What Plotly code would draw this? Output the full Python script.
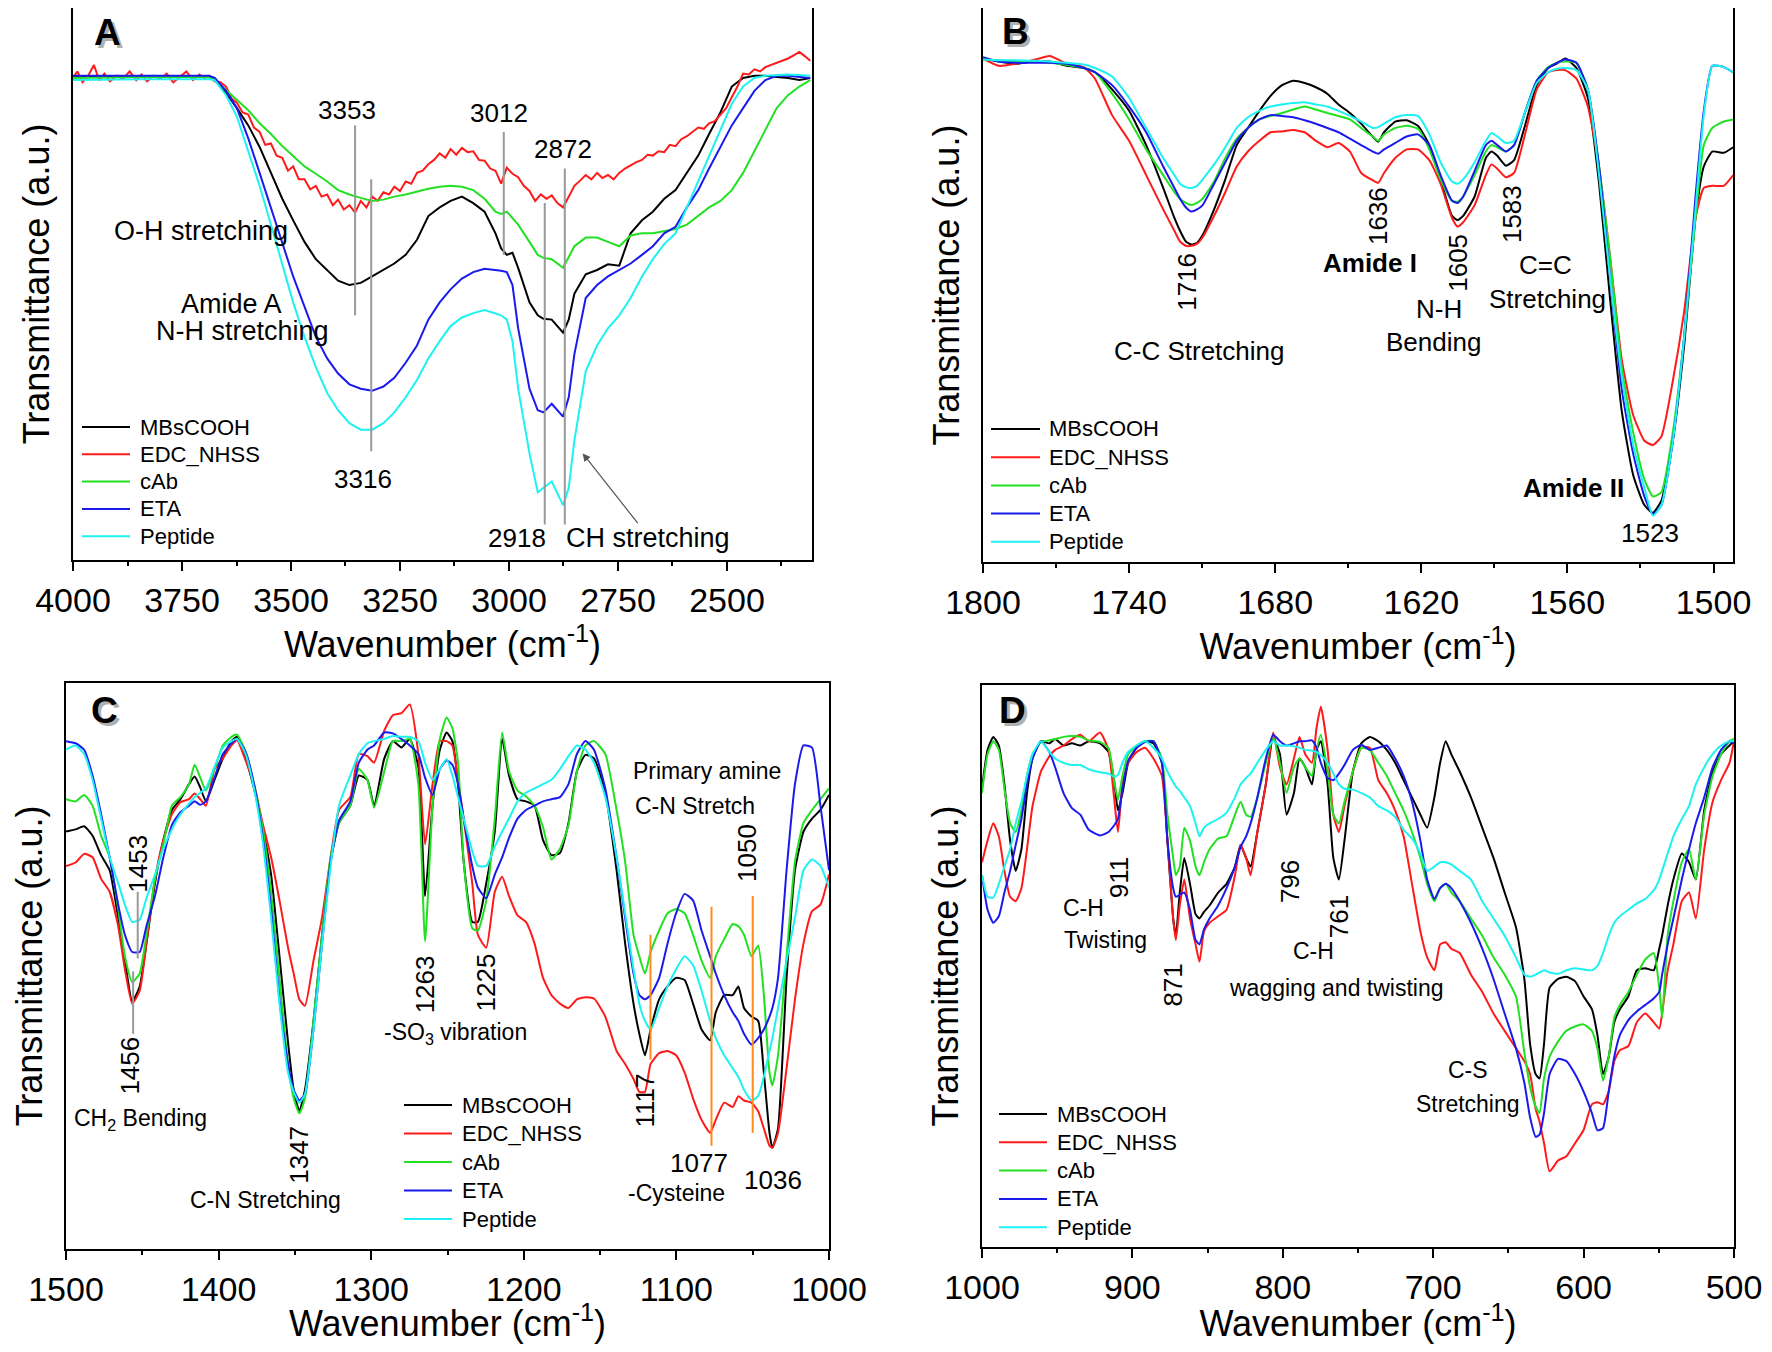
import plotly.graph_objects as go

# ---------------- data ----------------
series = ["MBsCOOH", "EDC_NHSS", "cAb", "ETA", "Peptide"]
colores = ["#000000", "#FF1A1A", "#22E022", "#1A1AEE", "#1CF2F2"]

# panel A (4000 - 2300 cm-1), transmittance in a.u.
wn_a = [4000, 3843, 3688, 3675, 3649, 3624, 3598, 3572, 3546, 3520, 3495, 3469, 3443, 3417, 3392,
        3366, 3340, 3314, 3288, 3263, 3237, 3211, 3185, 3159, 3134, 3108, 3082, 3056, 3031, 3018,
        3005, 2992, 2979, 2953, 2934, 2921, 2902, 2876, 2863, 2850, 2824, 2798, 2773, 2747, 2721,
        2695, 2670, 2644, 2618, 2592, 2566, 2541, 2515, 2489, 2463, 2437, 2412, 2386, 2360, 2334, 2309]
a_mbscooh = [1122, 1122, 1122, 1115, 1085, 1050, 1010, 960, 900, 840, 790, 740, 700, 675, 650,
             640, 645, 660, 675, 690, 710, 745, 800, 820, 835, 845, 830, 810, 760, 725,
             710, 715, 680, 600, 570, 562, 560, 530, 560, 620, 665, 675, 688, 685, 760,
             790, 810, 840, 860, 900, 940, 990, 1040, 1100, 1120, 1125, 1125, 1122, 1120, 1115, 1120]
a_cab = [1120, 1122, 1122, 1115, 1092, 1070, 1045, 1015, 990, 962, 938, 915, 898, 880, 860,
         850, 842, 835, 838, 845, 850, 857, 863, 868, 870, 868, 860, 840, 810, 805,
         810, 795, 780, 740, 710, 703, 700, 680, 705, 730, 750, 750, 740, 730, 755,
         760, 760, 765, 770, 780, 800, 820, 835, 860, 900, 950, 1000, 1050, 1080, 1100, 1115]
a_eta = [1125, 1125, 1125, 1120, 1090, 1050, 980, 900, 820, 740, 660, 590, 520, 470, 435,
         410, 400, 395, 405, 425, 460, 500, 560, 600, 630, 655, 670, 678, 675, 673,
         670, 640, 540, 400, 350, 345, 365, 335, 380, 480, 610, 640, 660, 675, 690,
         710, 730, 760, 775, 820, 860, 910, 960, 1010, 1050, 1090, 1115, 1125, 1125, 1123, 1120]
a_peptide = [1115, 1117, 1117, 1115, 1080, 1030, 950, 870, 780, 690, 600, 520, 450, 390, 350,
             320, 305, 305, 320, 345, 380, 420, 470, 510, 545, 565, 575, 582, 575, 570,
             560, 510, 400, 250, 160, 170, 185, 130, 170, 280, 440, 500, 540, 570, 610,
             660, 700, 735, 760, 820, 880, 940, 1000, 1060, 1100, 1120, 1125, 1127, 1128, 1127, 1125]
# the EDC_NHSS spectrum is noisy, read on a finer grid
wn_a_edc = [4000, 3990, 3978, 3965, 3952, 3940, 3928, 3915, 3900, 3885,
            3870, 3855, 3843, 3830, 3815, 3800, 3785, 3770, 3755, 3740,
            3725, 3710, 3698, 3688, 3675, 3662, 3649, 3636, 3624, 3611,
            3598, 3585, 3572, 3559, 3546, 3533, 3520, 3507, 3495, 3482,
            3469, 3456, 3443, 3430, 3417, 3404, 3392, 3379, 3366, 3353,
            3340, 3327, 3314, 3301, 3288, 3275, 3263, 3250, 3237, 3224,
            3211, 3198, 3185, 3172, 3159, 3146, 3134, 3121, 3108, 3095,
            3082, 3069, 3056, 3043, 3031, 3018, 3005, 2992, 2979, 2966,
            2953, 2940, 2927, 2914, 2902, 2889, 2876, 2863, 2850, 2837,
            2824, 2811, 2798, 2786, 2773, 2760, 2747, 2734, 2721, 2708,
            2695, 2682, 2670, 2657, 2644, 2631, 2618, 2605, 2592, 2579,
            2566, 2553, 2541, 2528, 2515, 2502, 2489, 2476, 2463, 2450,
            2437, 2424, 2412, 2399, 2386, 2373, 2360, 2347, 2334, 2321, 2309]
a_edc = [1120, 1135, 1110, 1125, 1150, 1115, 1130, 1112, 1125, 1118,
         1135, 1115, 1128, 1112, 1125, 1118, 1130, 1110, 1122, 1135,
         1115, 1128, 1118, 1125, 1112, 1110, 1100, 1072, 1062, 1040,
         1035, 1005, 995, 965, 968, 940, 935, 905, 915, 885,
         885, 862, 870, 845, 850, 825, 838, 815, 825, 808,
         835, 820, 845, 835, 855, 850, 868, 858, 880, 875,
         900, 905, 920, 930, 945, 935, 955, 942, 958, 948,
         950, 930, 928, 910, 905, 875, 912, 898, 890, 870,
         858, 835, 850, 840, 848, 830, 820, 845, 870, 882,
         895, 885, 900, 888, 895, 885, 900, 910, 918, 925,
         930, 942, 940, 950, 948, 965, 962, 978, 985, 995,
         1005, 1002, 1015, 1020, 1035, 1050, 1075, 1100, 1130, 1128,
         1140, 1135, 1145, 1150, 1155, 1160, 1165, 1172, 1180, 1170, 1160]

# panel B (1800 - 1492 cm-1)
wn_b = [1800, 1793.5, 1786.5, 1779.5, 1772.6, 1765.6, 1758.6, 1754, 1747, 1740,
        1733, 1726, 1721.4, 1719.1, 1716.7, 1714.4, 1712.1, 1709.8, 1705.1, 1700.5,
        1695.8, 1691.2, 1686.5, 1681.9, 1677.2, 1672.6, 1667.9, 1663.3, 1658.6, 1654,
        1649.3, 1644.7, 1640, 1637.7, 1635.3, 1630.7, 1626, 1621.4, 1616.7, 1612.1,
        1607.4, 1605.1, 1602.8, 1598.1, 1593.5, 1591.2, 1588.8, 1585.3, 1581.9, 1577.2,
        1572.6, 1567.9, 1564.4, 1560.9, 1556.3, 1551.6, 1547, 1542.3, 1537.7, 1533,
        1528.4, 1524.9, 1521.4, 1516.7, 1512.1, 1507.4, 1504, 1500.5, 1495.8, 1491.9]
b_mbscooh = [1172, 1165, 1160, 1165, 1165, 1155, 1150, 1140, 1100, 1050,
             970, 870, 800, 770, 745, 738, 742, 760, 820, 890,
             970, 1010, 1050, 1085, 1110, 1120, 1115, 1105, 1090, 1065,
             1045, 1020, 990, 978, 1000, 1025, 1028, 1015, 970, 890,
             805, 795, 805, 850, 940, 955, 945, 922, 935, 1020,
             1110, 1150, 1160, 1172, 1150, 1080, 880, 600, 350, 200,
             130, 112, 140, 280, 500, 800, 920, 955, 952, 965]
b_edc = [1172, 1155, 1160, 1168, 1178, 1160, 1152, 1125, 1040, 980,
         900, 820, 770, 745, 735, 735, 740, 755, 805, 860,
         920, 955, 980, 1000, 1002, 1005, 1000, 980, 965, 975,
         955, 905, 888, 882, 905, 940, 960, 960, 935, 880,
         800, 780, 790, 830, 900, 925, 915, 895, 905, 1000,
         1100, 1140, 1145, 1145, 1125, 1060, 920, 700, 470, 340,
         280, 270, 290, 420, 580, 800, 870, 875, 875, 900]
b_cab = [1170, 1168, 1165, 1165, 1162, 1157, 1150, 1140, 1090, 1030,
         960, 900, 860, 845, 835, 830, 835, 845, 885, 940,
         985, 1010, 1030, 1038, 1045, 1053, 1060, 1053, 1045, 1038,
         1030, 1010, 990, 980, 995, 1010, 1015, 1008, 960, 890,
         840, 838, 850, 900, 955, 970, 965, 955, 970, 1050,
         1120, 1152, 1162, 1165, 1162, 1100, 920, 700, 450, 300,
         190, 150, 160, 300, 520, 800, 970, 1010, 1025, 1030]
b_eta = [1175, 1165, 1162, 1162, 1162, 1160, 1150, 1140, 1110, 1060,
         1000, 920, 870, 845, 825, 815, 820, 830, 880, 930,
         980, 1010, 1030, 1040, 1038, 1035, 1028, 1020, 1010, 1000,
         985, 970, 955, 950, 960, 975, 990, 995, 970, 900,
         840, 835, 850, 910, 970, 980, 970, 955, 970, 1050,
         1120, 1150, 1162, 1170, 1162, 1100, 920, 650, 400, 250,
         150, 108, 130, 280, 520, 850, 1050, 1155, 1152, 1140]
b_peptide = [1170, 1168, 1168, 1167, 1165, 1162, 1158, 1150, 1130, 1080,
             1010, 940, 900, 880, 872, 870, 875, 890, 925, 965,
             1010, 1035, 1050, 1060, 1065, 1068, 1070, 1065, 1060, 1050,
             1038, 1025, 1010, 1012, 1020, 1035, 1040, 1038, 995, 930,
             885, 880, 890, 930, 980, 998, 990, 975, 980, 1050,
             1115, 1140, 1148, 1150, 1145, 1100, 900, 650, 430, 270,
             170, 105, 130, 280, 520, 820, 1040, 1155, 1152, 1140]

# panel C (1500 - 1000 cm-1)
wn_c = [1500, 1493.7, 1488.1, 1482.6, 1477, 1471.4, 1465.8, 1461.4, 1456.6, 1451.7,
        1447.3, 1441.7, 1436.2, 1430.6, 1425, 1419.4, 1415.7, 1412, 1408.3, 1402.7,
        1397.2, 1391.6, 1387.9, 1382.3, 1376.8, 1371.2, 1365.6, 1360.1, 1354.5, 1350.8,
        1347.1, 1343.4, 1337.8, 1332.2, 1326.6, 1321.1, 1313.7, 1308.1, 1302.5, 1298.1,
        1291.4, 1285.8, 1280.2, 1274.7, 1269.1, 1264.7, 1259.8, 1255, 1250.6, 1246.8,
        1243.1, 1239.4, 1233.8, 1230.1, 1224.6, 1219, 1214.2, 1209.7, 1204.1, 1198.6,
        1193, 1187.4, 1181.9, 1176.3, 1170.7, 1165.2, 1159.6, 1154, 1146.6, 1139.2,
        1133.6, 1128.1, 1124.3, 1120.6, 1116.9, 1111.3, 1105.8, 1100.2, 1094.6, 1089.1,
        1083.5, 1077.9, 1074.2, 1068.7, 1063.1, 1059.4, 1055.7, 1050.8, 1046.4, 1042.7,
        1039, 1037.1, 1033.4, 1027.8, 1022.3, 1016.7, 1011.1, 1005.6, 1000]
c_mbscooh = [970, 975, 982, 960, 915, 880, 770, 670, 575, 610,
             710, 850, 950, 1020, 1045, 1080, 1098, 1072, 1040, 1090,
             1140, 1180, 1190, 1140, 1070, 980, 870, 680, 480, 370,
             320, 370, 530, 730, 900, 990, 1030, 1100, 1090, 1030,
             1140, 1180, 1165, 1185, 1120, 820, 1030, 1160, 1200, 1180,
             1080, 900, 760, 760, 850, 970, 1185, 1100, 1045, 1040,
             1030, 950, 915, 920, 990, 1110, 1148, 1140, 1060, 880,
             710, 570, 500, 450, 510, 580, 610, 630, 625, 570,
             510, 485, 550, 590, 590, 610, 560, 540, 530, 410,
             270, 235, 280, 630, 880, 970, 1000, 1020, 1055]
c_edc = [890, 898, 918, 910, 860, 830, 750, 650, 570, 600,
         710, 860, 950, 1010, 1038, 1045, 1058, 1045, 1030, 1115,
         1140, 1170, 1182, 1135, 1080, 990, 910, 810, 700, 640,
         580, 565, 670, 770, 910, 1020, 1050, 1150, 1145, 1130,
         1205, 1240, 1245, 1265, 1150, 940, 1080, 1180, 1180, 1170,
         1090, 1000, 850, 730, 700, 830, 865, 820, 775, 760,
         710, 630, 590, 570, 560, 580, 585, 582, 540, 460,
         430, 395, 365, 365, 430, 455, 460, 450, 410, 350,
         300, 270, 300, 340, 330, 355, 345, 340, 320, 280,
         240, 235, 270, 420, 580, 710, 785, 800, 870]
c_cab = [1045, 1040, 1055, 1030, 960, 910, 790, 680, 620, 640,
         730, 860, 940, 1030, 1050, 1080, 1125, 1095, 1065, 1115,
         1170, 1190, 1195, 1155, 1080, 980, 830, 630, 430, 350,
         315, 350, 530, 730, 910, 990, 1030, 1115, 1090, 1025,
         1110, 1180, 1180, 1185, 1080, 715, 1030, 1185, 1235, 1210,
         1130, 900, 745, 740, 810, 1000, 1200, 1110, 1065, 1052,
         1030, 980, 905, 930, 985, 1110, 1170, 1180, 1150, 1020,
         900, 730, 680, 640, 690, 740, 780, 790, 780, 730,
         670, 630, 680, 720, 755, 750, 730, 680, 705, 590,
         410, 380, 450, 680, 900, 990, 1020, 1045, 1070]
c_eta = [1180, 1175, 1160, 1100, 1010, 910, 800, 730, 690, 690,
         750, 820, 910, 985, 1015, 1030, 1040, 1032, 1040, 1095,
         1150, 1175, 1185, 1155, 1080, 960, 790, 580, 430, 370,
         345, 360, 510, 710, 900, 995, 1040, 1130, 1160, 1170,
         1200, 1198, 1185, 1170, 1150, 1095, 1055, 1115, 1135, 1125,
         1080, 1000, 890, 840, 815, 870, 910, 955, 1000, 1020,
         1030, 1040, 1045, 1050, 1080, 1150, 1180, 1160, 1070, 910,
         770, 640, 590, 580, 590, 630, 710, 780, 825, 810,
         740, 680, 640, 590, 550, 530, 500, 475, 490, 510,
         540, 560, 630, 880, 1080, 1170, 1165, 1030, 880]
c_peptide = [1160, 1170, 1150, 1090, 1000, 910, 850, 800, 760, 765,
             815, 870, 930, 975, 1010, 1035, 1050, 1060, 1070, 1120,
             1165, 1180, 1185, 1150, 1070, 950, 770, 570, 410, 365,
             340, 360, 510, 710, 890, 1030, 1100, 1150, 1175, 1180,
             1185, 1192, 1190, 1190, 1180, 1130, 1090, 1115, 1138, 1100,
             1050, 1000, 925, 890, 890, 935, 970, 1000, 1040, 1060,
             1070, 1080, 1090, 1115, 1145, 1170, 1160, 1130, 1050, 910,
             780, 650, 570, 530, 510, 560, 610, 650, 680, 660,
             600, 530, 490, 450, 420, 400, 370, 345, 355, 400,
             460, 490, 560, 670, 770, 880, 905, 890, 840]

# panel D (1000 - 500 cm-1)
wn_d = [1000, 996.3, 992.5, 988.8, 985.1, 981.3, 977.6, 973.8, 970.1, 966.4,
        960.8, 955.2, 951.4, 945.8, 940.2, 934.6, 929, 921.5, 915.9, 912.2,
        909.6, 906.6, 902.8, 897.2, 891.6, 886, 880.4, 876.7, 872.9, 871.1,
        868.5, 865.5, 861.7, 858, 855.4, 852.4, 848.7, 843, 837.4, 831.8,
        828.1, 824.4, 821.4, 816.9, 811.3, 806.4, 801.9, 797.5, 792.6, 788.9,
        785.1, 780.6, 777.6, 774.7, 770.2, 766.4, 762.7, 759, 753.4, 747.8,
        742.1, 736.5, 730.9, 725.3, 719.7, 714.1, 708.5, 704, 699.2, 695.4,
        691.7, 688, 682.4, 674.9, 667.4, 659.9, 652.5, 645, 639.4, 635.6,
        631.9, 629.3, 626.3, 622.6, 617, 611.4, 605.7, 600.1, 594.5, 590.8,
        587.1, 583.3, 579.6, 575.9, 570.2, 564.6, 559, 553.4, 549.7, 547.8,
        544.1, 540.3, 534.7, 529.9, 525.4, 519.8, 514.2, 508.6, 503, 500]
d_mbscooh = [1060, 1150, 1180, 1160, 1070, 940, 870, 920, 1050, 1130,
             1170, 1165, 1175, 1160, 1165, 1160, 1170, 1165, 1145, 1080,
             1010, 1050, 1120, 1155, 1170, 1165, 1120, 940, 760, 720,
             820, 900, 840, 770, 760, 775, 790, 820, 840, 880,
             930, 900, 880, 960, 1070, 1180, 1140, 1000, 1050, 1130,
             1110, 1070, 1150, 1170, 1070, 900, 850, 940, 1100, 1165,
             1180, 1170, 1150, 1120, 1080, 1040, 1000, 970, 1040, 1120,
             1170, 1140, 1100, 1040, 970, 900, 820, 740, 620, 470,
             400, 390, 470, 600, 620, 625, 615, 580, 550, 490,
             400, 440, 520, 550, 580, 640, 645, 640, 690, 720,
             790, 850, 910, 890, 850, 1010, 1100, 1140, 1160, 1170]
d_edc = [890, 940, 980, 950, 870, 810, 800, 830, 920, 1020,
         1100, 1135, 1150, 1160, 1175, 1185, 1170, 1190, 1150, 1040,
         960, 1070, 1120, 1145, 1155, 1130, 1090, 940, 760, 710,
         790, 850, 760, 700, 660, 730, 750, 765, 780, 860,
         930, 900, 860, 960, 1070, 1190, 1110, 1070, 1130, 1180,
         1140, 1120, 1200, 1250, 1150, 1000, 960, 1020, 1100, 1155,
         1155, 1080, 1050, 1010, 950, 840, 730, 670, 640, 700,
         705, 690, 680, 630, 590, 540, 500, 460, 430, 400,
         320, 290, 240, 175, 200, 210, 240, 270, 330, 335,
         330, 360, 430, 455, 465, 520, 540, 520, 505, 540,
         640, 700, 800, 820, 760, 920, 1030, 1080, 1120, 1170]
d_cab = [1050, 1140, 1170, 1150, 1060, 980, 960, 1010, 1090, 1140,
         1168, 1172, 1175, 1180, 1182, 1180, 1172, 1168, 1155, 1080,
         1035, 1090, 1140, 1160, 1170, 1170, 1130, 1000, 900, 860,
         880, 970, 940, 880, 860, 890, 920, 945, 950, 1000,
         1030, 1000, 995, 1040, 1120, 1180, 1120, 1050, 1110, 1130,
         1110, 1090, 1150, 1185, 1100, 1000, 980, 1030, 1100, 1155,
         1150, 1120, 1090, 1050, 1010, 960, 900, 840, 800, 830,
         840, 820, 800, 760, 720, 670, 630, 580, 450, 370,
         325, 310, 390, 440, 475, 500, 510, 515, 500, 460,
         385, 440, 530, 560, 590, 630, 665, 680, 600, 530,
         720, 800, 890, 920, 850, 1000, 1090, 1140, 1170, 1175]
d_eta = [860, 780, 750, 765, 820, 870, 930, 990, 1070, 1130,
         1170, 1145, 1110, 1050, 1015, 1000, 965, 952, 960, 975,
         990, 1060, 1125, 1155, 1168, 1170, 1120, 940, 830, 810,
         815, 820, 780, 710, 700, 735, 760, 790, 830, 880,
         925, 950, 980, 1040, 1130, 1185, 1170, 1160, 1165, 1170,
         1170, 1172, 1155, 1120, 1085, 1080, 1095, 1115, 1150, 1162,
         1150, 1155, 1160, 1130, 1090, 1030, 940, 850, 805, 830,
         840, 830, 800, 750, 690, 620, 540, 460, 380, 300,
         255, 260, 310, 400, 435, 430, 400, 360, 310, 270,
         275, 360, 440, 490, 525, 545, 560, 575, 590, 630,
         700, 760, 850, 920, 980, 1040, 1110, 1150, 1170, 1165]
d_peptide = [860, 810, 808, 840, 880, 920, 980, 1030, 1090, 1140,
             1170, 1145, 1130, 1120, 1115, 1115, 1105, 1098, 1095, 1088,
             1092, 1120, 1145, 1160, 1170, 1155, 1130, 1100, 1075, 1065,
             1055, 1040, 1020, 980, 950, 970, 980, 990, 1005, 1040,
             1070, 1085, 1095, 1120, 1150, 1170, 1160, 1160, 1158, 1155,
             1150, 1148, 1145, 1138, 1120, 1095, 1070, 1060, 1058, 1050,
             1040, 1020, 1010, 995, 965, 945, 910, 870, 880, 890,
             890, 885, 870, 850, 800, 760, 720, 670, 630, 625,
             630, 635, 640, 635, 632, 640, 645, 642, 640, 650,
             680, 720, 750, 765, 780, 795, 805, 825, 850, 870,
             910, 950, 990, 1020, 1070, 1110, 1140, 1160, 1170, 1170]

paneles = [
    ("", [wn_a, wn_a_edc, wn_a, wn_a, wn_a], [a_mbscooh, a_edc, a_cab, a_eta, a_peptide], "linear"),
    ("2", [wn_b] * 5, [b_mbscooh, b_edc, b_cab, b_eta, b_peptide], "spline"),
    ("3", [wn_c] * 5, [c_mbscooh, c_edc, c_cab, c_eta, c_peptide], "spline"),
    ("4", [wn_d] * 5, [d_mbscooh, d_edc, d_cab, d_eta, d_peptide], "spline"),
]

FUENTE = "Liberation Sans, Arial, sans-serif"
W, H = 1756, 1336


def fx(X):  # screen pixel -> paper
    return (X - 8) / W


def fy(Y):
    return min(1.0, 1 - (Y - 8) / H)


fig = go.Figure()
for k, xs, valores, forma in paneles:
    for nombre, color, wn, ys in zip(series, colores, xs, valores):
        fig.add_trace(go.Scatter(
            x=wn, y=ys, mode="lines", name=nombre, showlegend=False,
            line=dict(color=color, width=2, shape=forma, smoothing=0.5),
            xaxis="x" + k, yaxis="y" + k,
        ))


# axes
def eje_x(rango, dtick, dominio, ancla):
    return dict(
        range=rango, domain=dominio, anchor=ancla, dtick=dtick, tick0=0, automargin=False,
        showline=True, mirror=True, linecolor="black", linewidth=2,
        ticks="outside", ticklen=9, tickwidth=2, tickcolor="black", ticklabeloverflow="allow",
        minor=dict(ticks="outside", ticklen=4, tickwidth=2, tickcolor="black", dtick=dtick / 2),
        showgrid=False, zeroline=False,
        tickfont=dict(size=34, color="black", family=FUENTE),
        title=dict(text="Wavenumber (cm<sup>-1</sup>)", font=dict(size=36, color="black", family=FUENTE),
                   standoff=6),
    )


def eje_y(rango, dominio, ancla):
    return dict(
        range=rango, domain=dominio, anchor=ancla, automargin=False,
        showline=True, mirror=True, linecolor="black", linewidth=2,
        ticks="", showticklabels=False, showgrid=False, zeroline=False,
        title=dict(text="Transmittance (a.u.)", font=dict(size=36, color="black", family=FUENTE),
                   standoff=10),
    )


fig.update_layout(
    width=W, height=H, margin=dict(l=0, r=0, t=0, b=0, autoexpand=False),
    paper_bgcolor="white", plot_bgcolor="white", showlegend=False,
    font=dict(family=FUENTE, color="black"),
    xaxis=eje_x([4000, 2305], 250, [fx(73), fx(812)], "y"),
    yaxis=eje_y([3, 1282], [fy(560), fy(7)], "x"),
    xaxis2=eje_x([1800, 1492], 60, [fx(983), fx(1733)], "y2"),
    yaxis2=eje_y([-3, 1290], [fy(562), fy(7)], "x2"),
    xaxis3=eje_x([1500, 1000], 100, [fx(66), fx(829)], "y3"),
    yaxis3=eje_y([0, 1315], [fy(1249), fy(683)], "x3"),
    xaxis4=eje_x([1000, 500], 100, [fx(982), fx(1734)], "y4"),
    yaxis4=eje_y([0, 1300], [fy(1247), fy(685)], "x4"),
)

# legends drawn by hand (one per panel): line start, line end, text start, first row, row step
leyendas = [(82, 130, 138, 427, 27.3), (991, 1040, 1047, 429, 28.2),
            (404, 452, 460, 1105, 28.5), (999, 1047, 1055, 1114, 28.3)]
for x0, x1, xt, y0, paso in leyendas:
    for i, (nombre, color) in enumerate(zip(series, colores)):
        yy = fy(y0 + i * paso)
        fig.add_shape(type="line", xref="paper", yref="paper", x0=fx(x0), x1=fx(x1), y0=yy, y1=yy,
                      line=dict(color=color, width=2))
        fig.add_annotation(xref="paper", yref="paper", x=fx(xt), y=yy, text=nombre, showarrow=False,
                           xanchor="left", yanchor="middle", font=dict(size=22, color="black", family=FUENTE))

# panel letters with a soft shadow
for k, x, y, letra in [("", 3920, 1225, "A"), ("2", 1786.5, 1235, "B"),
                       ("3", 1475, 1250, "C"), ("4", 979.4, 1240, "D")]:
    fig.add_annotation(x=x, y=y, xref="x" + k, yref="y" + k, text="<b>%s</b>" % letra, showarrow=False,
                       xshift=3, yshift=-3, font=dict(size=37, color="#B0B0B0", family=FUENTE))
    fig.add_annotation(x=x, y=y, xref="x" + k, yref="y" + k, text="<b>%s</b>" % letra, showarrow=False,
                       font=dict(size=37, color="black", family=FUENTE))

# labels: (axis, x, y, text, size, angle)
etiquetas = [
    ("", 3372, 1045, "3353", 26, 0),
    ("", 3334, 190, "3316", 26, 0),
    ("", 3024, 1038, "3012", 26, 0),
    ("", 2876, 955, "2872", 26, 0),
    ("", 2982, 55, "2918", 26, 0),
    ("", 2682, 55, "CH stretching", 27, 0),
    ("", 3707, 765, "O-H stretching", 27, 0),
    ("", 3636, 597, "Amide A", 27, 0),
    ("", 3611, 533, "N-H stretching", 27, 0),
    ("2", 1716, 650, "1716", 26, -90),
    ("2", 1637.7, 805, "1636", 26, -90),
    ("2", 1605, 695, "1605", 26, -90),
    ("2", 1583, 810, "1583", 26, -90),
    ("2", 1641, 695, "<b>Amide I</b>", 26, 0),
    ("2", 1612.6, 588, "N-H", 26, 0),
    ("2", 1615, 510, "Bending", 26, 0),
    ("2", 1569, 690, "C=C", 26, 0),
    ("2", 1568, 610, "Stretching", 26, 0),
    ("2", 1711, 490, "C-C Stretching", 26, 0),
    ("2", 1557.4, 170, "<b>Amide II</b>", 26, 0),
    ("2", 1526, 65, "1523", 26, 0),
    ("3", 1452.9, 895, "1453", 26, -90),
    ("3", 1457.7, 425, "1456", 26, -90),
    ("3", 1451, 300, "CH<sub>2</sub> Bending", 23, 0),
    ("3", 1347, 220, "1347", 26, -90),
    ("3", 1369.3, 115, "C-N Stretching", 23, 0),
    ("3", 1264.7, 615, "1263", 26, -90),
    ("3", 1224.6, 620, "1225", 26, -90),
    ("3", 1245, 500, "-SO<sub>3</sub> vibration", 23, 0),
    ("3", 1079.8, 1110, "Primary amine", 23, 0),
    ("3", 1088, 1030, "C-N Stretch", 23, 0),
    ("3", 1053.8, 920, "1050", 26, -90),
    ("3", 1120.6, 345, "1117", 26, -90),
    ("3", 1085, 200, "1077", 26, 0),
    ("3", 1100, 130, "-Cysteine", 23, 0),
    ("3", 1037, 160, "1036", 26, 0),
    ("4", 932.7, 785, "C-H", 23, 0),
    ("4", 917.8, 710, "Twisting", 23, 0),
    ("4", 908.4, 855, "911", 26, -90),
    ("4", 872.9, 605, "871", 26, -90),
    ("4", 795.6, 845, "796", 26, -90),
    ("4", 762.7, 765, "761", 26, -90),
    ("4", 779.5, 685, "C-H", 23, 0),
    ("4", 764.6, 600, "wagging and twisting", 23, 0),
    ("4", 676.8, 410, "C-S", 23, 0),
    ("4", 676.8, 330, "Stretching", 23, 0),
]
for k, x, y, texto, tam, ang in etiquetas:
    fig.add_annotation(x=x, y=y, xref="x" + k, yref="y" + k, text=texto, showarrow=False,
                       textangle=ang, font=dict(size=tam, color="black", family=FUENTE))

# arrow to the CH stretching band
fig.add_annotation(x=2831, y=250, ax=2702, ay=85, xref="x", yref="y", axref="x", ayref="y",
                   text="", showarrow=True, arrowhead=2, arrowsize=1.3, arrowwidth=1.2,
                   arrowcolor="#555555")

# marker lines: (axis, x, y0, y1, color)
lineas = [
    ("", 3353, 570, 1010, "#999999"),
    ("", 3316, 255, 885, "#999999"),
    ("", 3012, 710, 995, "#999999"),
    ("", 2918, 85, 830, "#999999"),
    ("", 2872, 85, 910, "#999999"),
    ("3", 1453, 675, 830, "#999999"),
    ("3", 1456, 500, 645, "#999999"),
    ("3", 1117, 440, 730, "#FF8C1A"),
    ("3", 1077, 240, 795, "#FF8C1A"),
    ("3", 1050, 270, 820, "#FF8C1A"),
]
for k, x, y0, y1, c in lineas:
    fig.add_shape(type="line", x0=x, x1=x, y0=y0, y1=y1, xref="x" + k, yref="y" + k,
                  line=dict(color=c, width=2))

fig.write_html("out.html")
